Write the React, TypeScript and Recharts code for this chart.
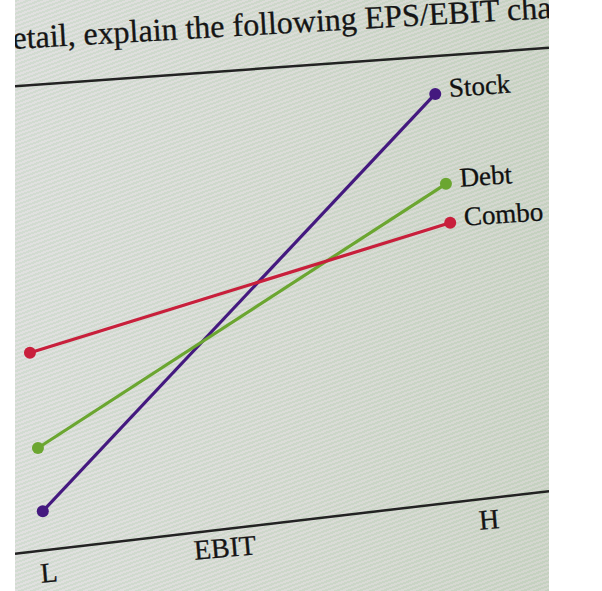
import React from 'react';
import { LineChart, Line, XAxis, YAxis, ReferenceLine } from 'recharts';

// EBIT (x) vs EPS (y), both on a 0-100 scale
const stockData = [
  { x: 5.2, y: 13.5 },
  { x: 78.7, y: 84.1 },
];
const debtData = [
  { x: 4.3, y: 24.2 },
  { x: 80.7, y: 68.9 },
];
const comboData = [
  { x: 2.8, y: 40.3 },
  { x: 81.5, y: 62.3 },
];

const seriesNames = ['Stock', 'Debt', 'Combo'];
const seriesColors = ['#44197f', '#6ba630', '#c81f3b'];

// the two page rules (top rule, EBIT axis), tilted in the photo
const topRule = [
  { x: 0, y: 85.4 },
  { x: 100, y: 91.9 },
];
const axisRule = [
  { x: 0, y: 6.3 },
  { x: 100, y: 16.9 },
];

const headline = 'etail, explain the following EPS/EBIT cha';
const axisLabels = ['L', 'EBIT', 'H'];

const serif = '"Liberation Serif", "DejaVu Serif", serif';

const endLabel = (name: string, last: number) => (props: any) => {
  const { x, y, index } = props;
  if (index !== last) return null;
  return (
    <text
      x={x + 14}
      y={y + 3}
      fontFamily={serif}
      fontSize={27}
      fill="#111"
      stroke="#111"
      strokeWidth={0.3}
      transform={`rotate(-4 ${x + 14} ${y})`}
    >
      {name}
    </text>
  );
};

export default function App() {
  const W = 534;
  const H = 591;

  return (
    <div style={{ position: 'absolute', left: 0, top: 0, width: 602, height: 591, background: '#fff' }}>
      <div
        style={{
          position: 'absolute',
          left: 15,
          top: 0,
          width: W,
          height: H,
          overflow: 'hidden',
          background:
            'repeating-linear-gradient(160deg, rgba(140,175,130,0.16) 0px, rgba(140,175,130,0.16) 2px, rgba(235,205,225,0.16) 2px, rgba(235,205,225,0.16) 4px), linear-gradient(90deg, #dfe4e0 0%, #d9dfd7 50%, #cfd8cb 100%)',
        }}
      >
        {/* headline cut off by the photo */}
        <div
          style={{
            position: 'absolute',
            left: -2,
            top: 22,
            whiteSpace: 'nowrap',
            fontFamily: serif,
            fontSize: 32,
            lineHeight: '32px',
            color: '#151515',
            WebkitTextStroke: '0.3px #151515',
            transform: 'rotate(-3.3deg)',
            transformOrigin: '0 27px',
          }}
        >
          {headline}
        </div>

        <div style={{ position: 'absolute', left: 0, top: 0 }}>
          <LineChart width={W} height={H} margin={{ top: 0, right: 0, bottom: 0, left: 0 }}>
            <XAxis type="number" dataKey="x" domain={[0, 100]} hide />
            <YAxis type="number" dataKey="y" domain={[0, 100]} hide />
            <ReferenceLine
              segment={topRule}
              stroke="#222"
              strokeWidth={2.5}
              ifOverflow="visible"
            />
            <ReferenceLine
              segment={axisRule}
              stroke="#222"
              strokeWidth={2.5}
              ifOverflow="visible"
            />
            {[stockData, debtData, comboData].map((d, i) => (
              <Line
                key={seriesNames[i]}
                data={d}
                dataKey="y"
                name={seriesNames[i]}
                type="linear"
                stroke={seriesColors[i]}
                strokeWidth={3.2}
                dot={{ r: 6, fill: seriesColors[i], stroke: seriesColors[i], strokeWidth: 0 }}
                activeDot={false}
                label={endLabel(seriesNames[i], d.length - 1)}
                isAnimationActive={false}
              />
            ))}
          </LineChart>
        </div>

        {/* axis labels under the EBIT rule */}
        {[
          { t: axisLabels[0], cx: 34, cy: 573 },
          { t: axisLabels[1], cx: 210, cy: 548 },
          { t: axisLabels[2], cx: 474, cy: 520 },
        ].map((l) => (
          <div
            key={l.t}
            style={{
              position: 'absolute',
              left: l.cx - 50,
              top: l.cy - 16,
              width: 100,
              textAlign: 'center',
              fontFamily: serif,
              fontSize: 28,
              lineHeight: '32px',
              color: '#151515',
              WebkitTextStroke: '0.3px #151515',
              transform: 'rotate(-5deg)',
            }}
          >
            {l.t}
          </div>
        ))}
      </div>
    </div>
  );
}
